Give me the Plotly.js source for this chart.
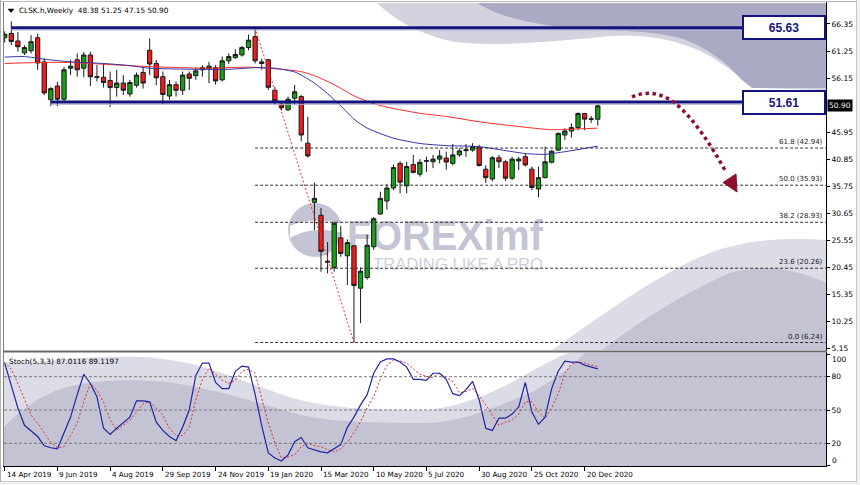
<!DOCTYPE html>
<html><head><meta charset="utf-8">
<script src="https://cdn.plot.ly/plotly-3.0.1.min.js"></script>
<style>html,body{margin:0;padding:0;background:#fff;overflow:hidden}#chart{width:860px;height:485px}</style>
</head><body><div id="chart"></div>
<script>
// ---------------- data ----------------
const weekLabels = ['14 Apr 2019','9 Jun 2019','4 Aug 2019','29 Sep 2019','24 Nov 2019','19 Jan 2020','15 Mar 2020','10 May 2020','5 Jul 2020','30 Aug 2020','25 Oct 2020','20 Dec 2020'];
const weekLabelIdx = [0,8,16,24,32,40,48,56,64,72,80,88];

const openP = [63.75,64.55,63.15,60.9,61.3,63.75,59.2,52.05,54.65,52.15,
58.0,59.6,58.0,60.5,56.4,56.3,55.7,54.35,55.2,53.15,
54.8,57.2,61.4,58.9,56.4,52.75,54.9,53.85,56.9,56.6,
58.1,57.9,58.1,55.8,59.4,60.0,60.5,61.9,63.95,59.2,
59.6,53.85,51.25,50.15,52.35,52.65,43.85,32.7,30.25,21.6,
20.4,26.0,22.6,24.5,16.5,18.5,24.3,30.5,32.95,35.4,
40.05,35.8,39.85,38.0,40.45,40.35,40.85,41.05,40.05,41.65,
42.45,42.55,43.0,38.95,37.1,41.1,40.35,37.25,40.5,41.3,
38.95,35.2,37.35,40.25,42.55,45.4,46.15,46.8,49.45,48.45,48.38];
const highP = [64.95,66.85,64.85,62.3,64.25,64.55,59.9,54.45,55.45,58.3,
59.6,60.8,61.1,61.1,58.6,58.9,57.4,57.7,56.7,55.8,
57.2,58.3,63.6,59.6,57.4,55.8,55.5,57.4,57.4,58.1,
58.6,59.2,58.6,60.2,60.8,61.6,62.2,64.35,65.63,59.8,
59.8,54.45,51.75,52.65,54.85,52.95,48.85,36.4,31.65,25.2,
29.05,28.2,25.7,24.6,20.4,26.6,29.9,34.7,36.1,39.85,
40.45,40.35,41.65,40.85,41.3,41.65,42.55,42.25,43.7,42.9,
43.7,43.85,43.55,39.7,41.45,41.65,40.65,41.3,41.3,41.95,
39.45,39.45,43.2,42.55,45.9,46.65,47.6,49.65,49.5,49.0,51.25];
const lowP = [62.85,62.35,61.15,60.5,60.8,57.7,52.95,50.85,50.85,51.55,
56.7,56.4,56.3,54.65,55.5,54.35,50.65,52.65,52.95,52.65,
54.35,54.15,56.7,54.8,51.25,52.05,52.65,52.95,53.85,55.8,
56.4,55.2,54.9,55.5,58.8,59.8,60.2,61.4,58.9,57.7,
53.9,51.05,50.05,49.95,51.05,44.2,41.15,27.45,19.6,19.3,
19.6,22.4,17.1,6.24,9.9,18.1,23.7,30.3,31.3,35.0,
34.4,34.4,38.15,37.55,38.45,39.15,40.05,38.85,39.65,41.3,
41.3,42.25,39.45,36.35,36.65,39.15,36.75,36.9,38.75,39.45,
35.0,33.6,37.25,40.05,42.35,44.5,44.9,46.3,46.3,47.7,47.15];
const closeP = [64.4,63.05,62.05,61.9,63.0,59.0,53.35,54.15,52.15,57.7,
58.4,57.7,60.5,56.4,56.3,55.3,54.35,55.2,53.85,55.3,
56.7,55.2,58.8,56.2,53.05,54.9,53.85,56.7,56.1,57.5,
57.7,58.4,55.6,59.4,60.2,60.6,61.9,63.3,59.4,58.9,
54.4,51.85,50.55,52.15,53.55,45.4,41.45,33.45,23.45,21.4,
28.75,23.05,25.1,17.0,19.7,24.6,29.6,33.45,35.4,39.25,
36.5,39.45,38.35,40.25,40.55,40.85,41.45,40.3,41.65,42.4,
42.6,43.2,39.65,37.35,41.1,40.35,37.25,40.85,40.85,39.75,
35.5,37.35,40.35,42.35,45.7,46.15,46.8,49.45,48.4,48.38,50.9];

const maFastIdx = [0,3,6,10,15,19,22,29,34,38,41,44,45,47,49,51,53,55,59,63,67,72,79,82,85,90];
const maFastVal = [60.1,60.2,59.7,59.2,58.9,58.5,58.0,57.8,57.8,58.1,58.0,57.3,56.7,55.2,53.2,50.9,48.4,46.7,44.8,43.8,43.4,43.2,41.9,41.75,42.25,43.3];
const maSlowIdx = [0,4,10,15,22,31,37,42,45,47,50,53,56,59,63,67,72,78,83,86,90];
const maSlowVal = [58.9,59.05,59.1,58.75,58.3,58.0,58.2,57.8,57.35,56.6,54.9,52.8,51.3,50.4,49.5,48.9,47.9,47.0,46.4,46.5,46.7];

const stochMain = [92.3,73,51.8,36.2,30.7,26.1,17.8,16,15.1,28.9,
43.6,63.8,82.2,73.9,62,33.5,28,33.5,39,43.6,
58.3,58.3,57.4,39,31.6,26.1,22.4,34.4,50,81.2,
92.3,92.3,74.8,69.3,69.3,84.9,89.5,88.6,64,36,
11.4,6.8,4.05,9.6,21.5,25.2,16,14.2,12.3,11.4,
15.1,18.8,34.4,43.6,54.6,63.8,83.1,93.2,96,96,
93.2,88.6,77.6,77.6,76.7,83.1,83.1,77.6,64.7,62.9,
68.4,75.7,59.2,33.5,31.6,42.6,42.6,46.3,52.8,74.8,
48.2,37.1,43.6,69.3,84.9,94.1,93.2,93.2,90.4,88.6,87.0116];
const stochSignal = [93.2,86.8,73.9,59.2,45.4,38.1,28.9,20.6,16,16.9,
27,38.1,57.4,73.9,68,57,41,32,36.2,40.8,
48.2,55.5,57.4,51.8,45.4,33.5,27,27,34.4,59.2,
77.6,87.7,82.2,76.7,73.9,76.7,84.9,86.8,83.1,59.2,
38.1,20.6,6.8,7.7,9.6,16.9,20.2,17.8,16.9,14.2,
12.3,15.1,20.6,29.8,39.4,51.8,62,77.6,90.4,95,
94.1,92.3,86.8,82.2,80.3,79.4,83.1,79.4,75.7,65.6,
66.5,69.3,62.9,54.6,45.4,36.2,39,40.8,46.3,57.4,
57.4,48.2,42.6,51.8,64.7,83.1,91.4,93.2,92.3,90.4,89.1197];

const levelPrices = [65.63, 51.61];
const levelStartIdx = [1, 7];
const fibPct = ['0.0','23.6','38.2','50.0','61.8'];
const fibPrice = [6.24, 20.26, 28.93, 35.93, 42.94];
const fibAnchorIdx = [38, 53];
const fibAnchorPrice = [65.63, 6.24];
const priceTicks = [66.35,61.25,56.15,45.95,40.85,35.75,30.65,25.55,20.45,15.35,10.25,5.15];
const stochTicks = [100,80,50,20,0];
const stochLevels = [80,50,20];
const lastPrice = 50.90;
const titleText = 'CLSK.h,Weekly  48.38 51.25 47.15 50.90';
const stochText = 'Stoch(5,3,3) 87.0116 89.1197';

// ---------------- geometry ----------------
const L = 4, R = 826, T = 3, B = 466;
const W = R - L, H = B - T;
const px2x = p => (p - L) / W;
const py2y = p => (B - p) / H;
const xRange = [-0.106, 124.63];
const weekIdx = closeP.map((_, i) => i);
const pathPx = s => s.replace(/(-?\d+\.?\d*),(-?\d+\.?\d*)/g, (m, a, b) => px2x(+a).toFixed(5) + ',' + py2y(+b).toFixed(5));

// decorative background (watermark curves, logo, window frame)
const svg = `<svg xmlns='http://www.w3.org/2000/svg' width='860' height='485' viewBox='0 0 860 485'>
<rect x='0' y='0' width='860' height='485' fill='#ffffff'/>
<path d='M377,3 C395,20 420,35 455,42 C500,47 560,41 610,36 C650,33 685,42 710,56 C728,67 742,80 756,88 L826,90 L826,3 Z' fill='#d3d3e0'/>
<path d='M477,3 C495,14 520,22 560,27 C610,31 655,30 683,39 C708,48 728,64 742,80 L752,88 L826,88 L826,3 Z' fill='#aaaac4'/>
<path d='M552,350 C595,320 642,285 693,260 C730,243 770,236 826,240 L826,350 Z' fill='#dcdce7'/>
<path d='M602,350 C640,320 690,290 730,273 C760,265 790,266 826,283 L826,350 Z' fill='#c3c3d3'/>
<rect x='4' y='353' width='822' height='113' fill='#c3c3d3'/>
<path d='M4,427 C20,410 40,395 67,387 C90,381 130,378 167,382 C210,388 250,400 300,415 C330,421 360,423 430,423 C470,420 500,405 530,393 C550,383 570,368 585,353 L4,353 Z' fill='#dcdce7'/>
<path d='M4,353 L4,362 C30,364 60,359 100,357 C140,355 170,358 200,366 C240,378 270,392 300,400 C330,407 360,410 430,410 C470,404 500,390 530,372 C545,364 558,357 568,353 Z' fill='#ffffff'/>
<circle cx='315' cy='230' r='27' fill='#c4c4d5'/>
<path d='M290,226 C305,219 325,219 343,224 L343,233 C325,228 305,229 290,238 Z' fill='#ffffff'/>
<text x='347' y='250' font-family='Liberation Sans, Arial, sans-serif' font-weight='bold' font-size='42' fill='#c4c4d5' textLength='196' lengthAdjust='spacingAndGlyphs'>FOREXimf</text>
<text x='373' y='270' font-family='Liberation Sans, Arial, sans-serif' font-size='16' fill='#cfcfdc' textLength='170' lengthAdjust='spacingAndGlyphs'>TRADING LIKE A PRO</text>
<rect x='857' y='0' width='3' height='485' fill='#f0f0f0'/>
<rect x='0' y='482' width='860' height='3' fill='#f0f0f0'/>
<line x1='856.5' y1='0' x2='856.5' y2='482' stroke='#c8c8c8'/>
<line x1='0' y1='481.5' x2='857' y2='481.5' stroke='#c8c8c8'/>
<line x1='0.5' y1='0' x2='0.5' y2='482' stroke='#b0b0b0'/>
<line x1='3.5' y1='2' x2='3.5' y2='466' stroke='#808080'/>
<line x1='0' y1='1.5' x2='857' y2='1.5' stroke='#b8b8b8'/>
<line x1='826.5' y1='2' x2='826.5' y2='467' stroke='#000000'/>
<line x1='3' y1='466.5' x2='827' y2='466.5' stroke='#000000'/>
<line x1='3' y1='351.5' x2='827' y2='351.5' stroke='#6a6a6a' stroke-width='2'/>
</svg>`;
const svgUri = 'data:image/svg+xml;charset=utf-8,' + encodeURIComponent(svg);

// ---------------- traces ----------------
const traces = [];
traces.push({
  type: 'candlestick', x: weekIdx, open: openP, high: highP, low: lowP, close: closeP,
  xaxis: 'x', yaxis: 'y', hoverinfo: 'skip',
  increasing: {line: {color: '#1a1a1a', width: 1}, fillcolor: '#17a017'},
  decreasing: {line: {color: '#1a1a1a', width: 1}, fillcolor: '#f41a1a'},
  whiskerwidth: 0
});
traces.push({type: 'scatter', mode: 'lines', x: maSlowIdx, y: maSlowVal, xaxis: 'x', yaxis: 'y',
  line: {color: '#ff2b2b', width: 1, shape: 'spline', smoothing: 0.6}, hoverinfo: 'skip'});
traces.push({type: 'scatter', mode: 'lines', x: maFastIdx, y: maFastVal, xaxis: 'x', yaxis: 'y',
  line: {color: '#3434a6', width: 1, shape: 'spline', smoothing: 0.6}, hoverinfo: 'skip'});
traces.push({type: 'scatter', mode: 'lines', x: fibAnchorIdx, y: fibAnchorPrice, xaxis: 'x', yaxis: 'y',
  line: {color: '#ff3030', width: 1, dash: '2px,2px'}, hoverinfo: 'skip'});
levelPrices.forEach((p, k) => {
  traces.push({type: 'scatter', mode: 'lines', x: [levelStartIdx[k], xRange[1]], y: [p - 0.42, p - 0.42],
    xaxis: 'x', yaxis: 'y', line: {color: '#b4b4d8', width: 1}, hoverinfo: 'skip'});
  traces.push({type: 'scatter', mode: 'lines', x: [levelStartIdx[k], xRange[1]], y: [p, p],
    xaxis: 'x', yaxis: 'y', line: {color: '#14147e', width: 3}, hoverinfo: 'skip'});
});
traces.push({type: 'scatter', mode: 'lines', x: weekIdx, y: stochSignal, xaxis: 'x', yaxis: 'y2',
  line: {color: '#e03030', width: 1, dash: '2px,2px'}, hoverinfo: 'skip'});
traces.push({type: 'scatter', mode: 'lines', x: weekIdx, y: stochMain, xaxis: 'x', yaxis: 'y2',
  line: {color: '#2424a0', width: 1.2}, hoverinfo: 'skip'});

// ---------------- shapes & annotations ----------------
const shapes = [];
fibPrice.forEach(p => shapes.push({type: 'line', xref: 'x', yref: 'y', x0: fibAnchorIdx[0], x1: xRange[1], y0: p, y1: p,
  line: {color: '#303030', width: 1, dash: '3px,2px'}}));
stochLevels.forEach(v => shapes.push({type: 'line', xref: 'paper', yref: 'y2', x0: 0, x1: 1, y0: v, y1: v,
  line: {color: '#7a7a7a', width: 1, dash: '3px,2px'}}));
// analysis arrow (decorative)
shapes.push({type: 'path', xref: 'paper', yref: 'paper', path: pathPx('M632,97 C645,91 660,92 675,103 C693,118 710,143 726,172'),
  line: {color: '#8b1030', width: 3.5, dash: 'dot'}});
shapes.push({type: 'path', xref: 'paper', yref: 'paper', path: pathPx('M723,182.5 L736,174 L737,192 Z'),
  fillcolor: '#8b1030', line: {color: '#8b1030', width: 1}});
// title triangle
shapes.push({type: 'path', xref: 'paper', yref: 'paper', path: pathPx('M8,9 L14,9 L11,12.5 Z'),
  fillcolor: '#000', line: {color: '#000', width: 0.5}});

const annotations = [];
const F = 'DejaVu Sans, Verdana, sans-serif';
weekLabels.forEach((t, k) => annotations.push({text: t, x: weekLabelIdx[k], xref: 'x', y: py2y(474.5), yref: 'paper',
  xanchor: 'left', yanchor: 'middle', showarrow: false, font: {family: F, size: 7.2, color: '#000'}}));
fibPct.forEach((p, k) => annotations.push({text: p + ' (' + fibPrice[k].toFixed(2) + ')', x: 1, xref: 'paper', xshift: -1,
  y: fibPrice[k], yref: 'y', xanchor: 'right', yanchor: 'bottom', showarrow: false, font: {family: F, size: 7, color: '#202020'}}));
levelPrices.forEach(p => annotations.push({text: '<b>' + p.toFixed(2) + '</b>', x: px2x(783.5), xref: 'paper', y: p, yref: 'y',
  xanchor: 'center', yanchor: 'middle', showarrow: false, width: 78, height: 19, bgcolor: '#ffffff', bordercolor: '#14147e',
  borderwidth: 2, borderpad: 1, font: {family: 'Liberation Sans, Arial, sans-serif', size: 12, color: '#14147e'}}));
annotations.push({text: lastPrice.toFixed(2), x: 1, xref: 'paper', xshift: 1, y: lastPrice, yref: 'y', xanchor: 'left', yanchor: 'middle',
  showarrow: false, bgcolor: '#000', borderpad: 1, font: {family: F, size: 7.5, color: '#fff'}});
annotations.push({text: titleText, x: px2x(17), xref: 'paper', y: py2y(10.5), yref: 'paper', xanchor: 'left', yanchor: 'middle',
  showarrow: false, font: {family: F, size: 7.3, color: '#000'}});
annotations.push({text: stochText, x: px2x(7), xref: 'paper', y: py2y(361), yref: 'paper', xanchor: 'left', yanchor: 'middle',
  showarrow: false, font: {family: F, size: 7.3, color: '#000'}});
// outermost stochastic scale labels are pushed inward, as the terminal draws them
annotations.push({text: String(stochTicks[0]), x: 1, xref: 'paper', xshift: 4, y: py2y(359.5), yref: 'paper', xanchor: 'left', yanchor: 'middle',
  showarrow: false, font: {family: F, size: 7.5, color: '#000'}});
annotations.push({text: String(stochTicks[stochTicks.length - 1]), x: 1, xref: 'paper', xshift: 4, y: py2y(460.5), yref: 'paper', xanchor: 'left', yanchor: 'middle',
  showarrow: false, font: {family: F, size: 7.5, color: '#000'}});

const layout = {
  width: 860, height: 485,
  margin: {l: L, r: 860 - R, t: T, b: 485 - B, pad: 0},
  paper_bgcolor: '#ffffff', plot_bgcolor: 'rgba(0,0,0,0)',
  showlegend: false, dragmode: false, hovermode: false,
  boxgap: 0.35, boxgroupgap: 0,
  font: {family: F, size: 7.5, color: '#000'},
  xaxis: {range: xRange, anchor: 'y2', showgrid: false, zeroline: false, showline: false,
    tickvals: weekLabelIdx, ticks: 'outside', ticklen: 4, tickcolor: '#000', showticklabels: false,
    rangeslider: {visible: false}, fixedrange: true},
  yaxis: {domain: [py2y(350), 1], range: [4.83, 70.31], side: 'right', anchor: 'x', showgrid: false, zeroline: false, showline: false,
    tickvals: priceTicks, ticktext: priceTicks.map(v => v.toFixed(2)), ticks: 'outside', ticklen: 3, tickcolor: '#000',
    tickfont: {family: F, size: 7.5, color: '#000'}, fixedrange: true},
  yaxis2: {domain: [0, py2y(353)], range: [-0.45, 101.35], side: 'right', anchor: 'x', showgrid: false, zeroline: false, showline: false,
    tickvals: stochTicks, ticktext: stochTicks.map((v, k) => (k === 0 || k === stochTicks.length - 1) ? '' : String(v)),
    ticks: 'outside', ticklen: 3, tickcolor: '#000',
    tickfont: {family: F, size: 7.5, color: '#000'}, fixedrange: true},
  images: [{source: svgUri, xref: 'paper', yref: 'paper', x: -L / W, y: 1 + T / H, sizex: 860 / W, sizey: 485 / H,
    xanchor: 'left', yanchor: 'top', sizing: 'stretch', layer: 'below'}],
  shapes: shapes, annotations: annotations
};

Plotly.newPlot('chart', traces, layout, {staticPlot: true, displayModeBar: false});
</script>
</body></html>
